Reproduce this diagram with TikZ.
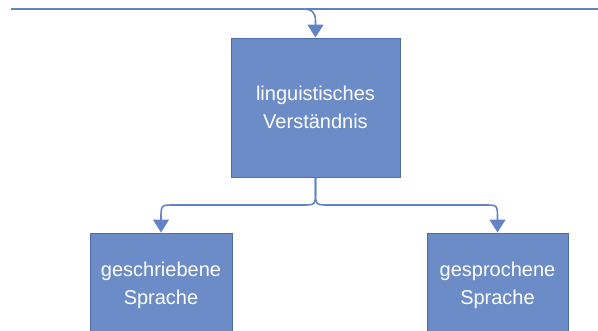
\documentclass[tikz,border=0pt]{standalone}
\usepackage{fontspec}
\setmainfont{Liberation Sans}
\usetikzlibrary{arrows.meta}
\definecolor{boxfill}{RGB}{108,140,200}
\definecolor{boxline}{RGB}{78,108,172}
\definecolor{linkcol}{RGB}{98,132,198}
\begin{document}
\begin{tikzpicture}[x=1pt,y=-1pt,
  box/.style={draw=boxline,line width=1pt,fill=boxfill,text=white,align=center,
    font=\fontsize{20}{28}\selectfont,inner sep=0pt},
  link/.style={draw=linkcol,line width=1.6pt,-{Triangle[width=16pt,length=13pt]}},
  plainlink/.style={draw=linkcol,line width=1.6pt}]
\useasboundingbox (0,0) rectangle (598,330);
\clip (0,0) rectangle (598,330);
\coordinate (lineL) at (11,9);
\coordinate (lineR) at (598,9);
\coordinate (tap) at (302,9);
\draw[plainlink] (lineL) -- (lineR);
\node[box,minimum width=169pt,minimum height=139pt] (ling) at (315.5,107.5) {linguistisches\\Verständnis};
\node[box,minimum width=142pt,minimum height=104pt] (schrift) at (161,285) {geschriebene\\Sprache};
\node[box,minimum width=141pt,minimum height=104pt] (sprech) at (497.5,285) {gesprochene\\Sprache};
\draw[link] (tap) .. controls (312,9) and (315.5,12) .. (315.5,21) -- (ling.north);
\draw[link] (ling.south) -- (315.5,191) .. controls (315.5,205) .. (302,205) -- (174,205) .. controls (161,205) .. (161,219) -- (schrift.north);
\draw[link] (ling.south) -- (315.5,191) .. controls (315.5,205) .. (329,205) -- (484.5,205) .. controls (497.5,205) .. (497.5,219) -- (sprech.north);
\end{tikzpicture}
\end{document}
